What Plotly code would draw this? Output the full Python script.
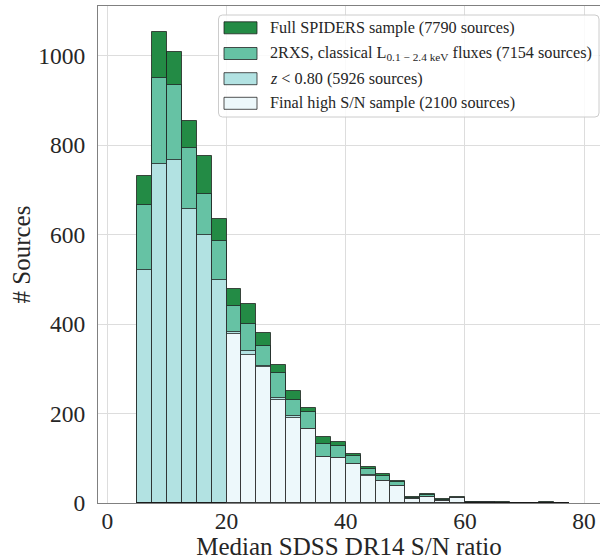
import plotly.graph_objects as go

# ---- data ----
bin_left = [5, 7.5, 10, 12.5, 15, 17.5, 20, 22.5, 25, 27.5, 30, 32.5, 35, 37.5,
            40, 42.5, 45, 47.5, 50, 52.5, 55, 57.5, 60, 62.5, 65, 67.5, 70, 72.5, 75]
bin_width = 2.5

full_spiders = [730, 1053, 1007, 853, 775, 635, 479, 444, 379, 308, 251, 213, 148, 137,
                109, 81, 64, 49, 13, 20, 9, 13, 3, 2, 2, 0, 1, 2, 1]
rxs_classical = [665, 950, 933, 794, 691, 585, 441, 401, 351, 290, 231, 204, 131, 127,
                 105, 75, 61, 46, 11, 17, 7, 12, 2, 2, 1, 0, 1, 1, 1]
z_cut = [521, 758, 767, 658, 598, 499, 382, 340, 306, 235, 194, 166, 103, 101,
         88, 62, 49, 39, 8, 14, 5, 12, 1, 2, 1, 0, 1, 1, 1]
final_high_sn = [0, 0, 0, 0, 0, 0, 378, 330, 304, 231, 191, 166, 102, 101,
                 88, 61, 49, 39, 8, 14, 5, 12, 0, 1, 1, 0, 0, 1, 0]

series_names = [
    "Full SPIDERS sample (7790 sources)",
    "2RXS, classical L<sub>0.1 − 2.4 keV</sub> fluxes (7154 sources)",
    "<i>z</i> &lt; 0.80 (5926 sources)",
    "Final high S/N sample (2100 sources)",
]
series_values = [full_spiders, rxs_classical, z_cut, final_high_sn]
series_colors = ["#238b45", "#66c2a4", "#b2e2e2", "#edf8fb"]

x_ticks = [0, 20, 40, 60, 80]
y_ticks = [0, 200, 400, 600, 800, 1000]

FONT = "'Liberation Serif', 'Times New Roman', Times, serif"
TEXT = "#262626"
EDGE = "rgba(25,25,25,0.75)"
TICK_SIZE = 23.5
TITLE_SIZE = 25
LEG_SIZE = 16.2

centers = [b + bin_width / 2 for b in bin_left]

fig = go.Figure()
for name, vals, col in zip(series_names, series_values, series_colors):
    fig.add_trace(go.Bar(
        x=centers, y=vals, width=bin_width, name=name,
        marker=dict(color=col, line=dict(color=EDGE, width=1)),
        showlegend=False,
    ))

# plot-area geometry (pixels)
L, R, T, B = 98, 0, 6, 57
W, H = 600, 560
PW, PH = W - L - R, H - T - B


def px(x):
    return (x - L) / PW


def py(y):
    return (H - B - y) / PH


# manual legend (box, swatches, labels)
bx0, bx1, by0, by1, r = 218.5, 599.0, 15.0, 117.0, 4.0
rx, ry = r / PW, r / PH
X0, X1, Y0, Y1 = px(bx0), px(bx1), py(by1), py(by0)
path = (f"M{X0+rx},{Y1} L{X1-rx},{Y1} Q{X1},{Y1} {X1},{Y1-ry} "
        f"L{X1},{Y0+ry} Q{X1},{Y0} {X1-rx},{Y0} L{X0+rx},{Y0} "
        f"Q{X0},{Y0} {X0},{Y0+ry} L{X0},{Y1-ry} Q{X0},{Y1} {X0+rx},{Y1} Z")
shapes = [dict(type="path", xref="paper", yref="paper", path=path,
               fillcolor="rgba(255,255,255,0.85)", line=dict(color="#cccccc", width=1),
               layer="above")]
annotations = []
entry_y = [27.8, 53.5, 78.7, 103.3]
for name, col, ey in zip(series_names, series_colors, entry_y):
    shapes.append(dict(type="rect", xref="paper", yref="paper",
                       x0=px(224), x1=px(257), y0=py(ey + 6), y1=py(ey - 6),
                       fillcolor=col, line=dict(color=EDGE, width=1), layer="above"))
    annotations.append(dict(xref="paper", yref="paper", x=px(268), y=py(ey),
                            xanchor="left", yanchor="middle", text=name, showarrow=False,
                            font=dict(family=FONT, size=LEG_SIZE, color=TEXT)))

fig.update_layout(
    width=W, height=H,
    margin=dict(l=L, r=R, t=T, b=B, pad=0),
    barmode="overlay",
    bargap=0,
    plot_bgcolor="white", paper_bgcolor="white",
    font=dict(family=FONT, size=TICK_SIZE, color=TEXT),
    shapes=shapes, annotations=annotations,
    xaxis=dict(
        range=[-1.58, -1.58 + PW / 5.958],
        tickvals=x_ticks, ticktext=[str(t) for t in x_ticks],
        showgrid=True, gridcolor="#dddddd", gridwidth=1,
        showline=True, linecolor="#808080", linewidth=1.2, mirror=True,
        ticks="", zeroline=False, ticklabelstandoff=-3,
        title=dict(text="Median SDSS DR14 S/N ratio", standoff=3,
                   font=dict(family=FONT, size=TITLE_SIZE, color=TEXT)),
        tickfont=dict(family=FONT, size=TICK_SIZE, color=TEXT),
    ),
    yaxis=dict(
        range=[0, PH / 0.4475],
        tickvals=y_ticks, ticktext=[str(t) for t in y_ticks],
        showgrid=True, gridcolor="#dddddd", gridwidth=1,
        showline=True, linecolor="#808080", linewidth=1.2, mirror=False,
        ticks="", zeroline=False, ticklabelstandoff=7,
        title=dict(text="# Sources", standoff=0,
                   font=dict(family=FONT, size=TITLE_SIZE, color=TEXT)),
        tickfont=dict(family=FONT, size=TICK_SIZE, color=TEXT),
    ),
)

fig.write_html("out.html")
